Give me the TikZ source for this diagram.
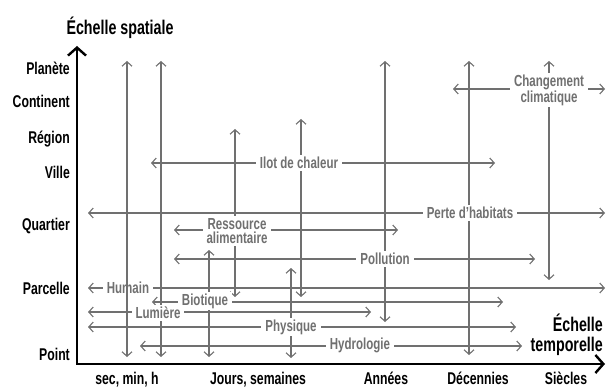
\documentclass[tikz,border=0pt]{standalone}
\usepackage{fontspec}
\setmainfont{Liberation Sans}[FakeStretch=0.72]
\usetikzlibrary{arrows.meta}
\definecolor{gris}{RGB}{112,112,112}

\begin{document}
\begin{tikzpicture}[x=1pt, y=-1pt,
	fl/.style={draw=gris, line width=1.1pt,
		{Straight Barb[length=4.5pt,width=10pt]}-{Straight Barb[length=4.5pt,width=10pt]}},
	axe/.style={draw=black, line width=2.4pt, line join=miter,
		{Straight Barb[length=8pt,width=18pt]}-{Straight Barb[length=8pt,width=18pt]}},
	etq/.style={fill=white, text=gris, align=center, inner xsep=4pt, inner ysep=2pt,
		font=\bfseries\fontsize{16}{14.5}\selectfont},
	ech/.style={anchor=base east, inner sep=0pt, font=\bfseries\fontsize{17}{17}\selectfont},
	tps/.style={anchor=base, inner sep=0pt, font=\bfseries\fontsize{17}{17}\selectfont}]
	\useasboundingbox (0,0) rectangle (607,387);
	\coordinate (ytip) at (77,46);
	\coordinate (o) at (77,364);
	\coordinate (xtip) at (605,364);
	\draw [axe] (ytip) -- (o) -- (xtip);
	\node [anchor=base, inner sep=0pt, font=\bfseries\fontsize{19.8}{19.8}\selectfont] (titre-y) at (120,35) {Échelle spatiale};
	\node [anchor=east, inner sep=0pt, align=right, font=\bfseries\fontsize{19.8}{19.5}\selectfont] (titre-x) at (603,335) {Échelle\\temporelle};
	\node [ech] (pla) at (70,75) {Planète};
	\node [ech] (con) at (70,108) {Continent};
	\node [ech] (reg) at (70,144) {Région};
	\node [ech] (vil) at (70,179) {Ville};
	\node [ech] (qua) at (70,230) {Quartier};
	\node [ech] (par) at (70,294) {Parcelle};
	\node [ech] (poi) at (70,360) {Point};
	\node [tps] (sec) at (127,384) {sec, min, h};
	\node [tps] (jou) at (258,384) {Jours, semaines};
	\node [tps] (ann) at (386,384) {Années};
	\node [tps] (dec) at (478,384) {Décennies};
	\node [tps] (sie) at (566,384) {Siècles};
	\coordinate (clim-w) at (453,89);
	\coordinate (clim-e) at (605,89);
	\coordinate (clim-n) at (549,61);
	\coordinate (clim-s) at (549,280);
	\coordinate (ilot-w) at (151,163);
	\coordinate (ilot-e) at (495,163);
	\coordinate (ilot-n) at (301,119);
	\coordinate (ilot-s) at (301,297);
	\coordinate (perte-w) at (88,213);
	\coordinate (perte-e) at (605,213);
	\coordinate (perte-n) at (469,61);
	\coordinate (perte-s) at (469,355);
	\coordinate (ress-w) at (174,230);
	\coordinate (ress-e) at (398,230);
	\coordinate (ress-n) at (235,129);
	\coordinate (ress-s) at (235,297);
	\coordinate (poll-w) at (174,259);
	\coordinate (poll-e) at (535,259);
	\coordinate (poll-n) at (385,61);
	\coordinate (poll-s) at (385,322);
	\coordinate (hum-w) at (88,288);
	\coordinate (hum-e) at (605,288);
	\coordinate (hum-n) at (127,61);
	\coordinate (hum-s) at (127,357);
	\coordinate (bio-w) at (152,302);
	\coordinate (bio-e) at (503,302);
	\coordinate (bio-n) at (209,250);
	\coordinate (bio-s) at (209,357);
	\coordinate (lum-w) at (88,312);
	\coordinate (lum-e) at (371,312);
	\coordinate (lum-n) at (161,61);
	\coordinate (lum-s) at (161,357);
	\coordinate (phys-w) at (88,327);
	\coordinate (phys-e) at (516,327);
	\coordinate (phys-n) at (291,268);
	\coordinate (phys-s) at (291,358);
	\coordinate (hydro-w) at (140,346);
	\coordinate (hydro-e) at (522,346);
	\foreach \a in {clim,ilot,perte,ress,poll,hum,bio,lum,phys,hydro}
		\draw [fl] (\a-w) -- (\a-e);
	\foreach \a in {clim,ilot,perte,ress,poll,bio,lum,phys}
		\draw [fl] (\a-n) -- (\a-s);
	\node [etq] (clim) at (549,90) {Changement\\climatique};
	\node [etq] (ilot) at (299,163) {Ilot de chaleur};
	\node [etq] (perte) at (470,213) {Perte d’habitats};
	\node [etq] (ress) at (237,231) {Ressource\\alimentaire};
	\node [etq] (poll) at (385,259) {Pollution};
	\node [etq] (hum) at (128,288) {Humain};
	\node [etq] (bio) at (205,301) {Biotique};
	\node [etq] (lum) at (158,313) {Lumière};
	\node [etq] (phys) at (291,327) {Physique};
	\node [etq] (hydro) at (360,345) {Hydrologie};
	\draw [fl] (hum-n) -- (hum-s);
\end{tikzpicture}
\end{document}
